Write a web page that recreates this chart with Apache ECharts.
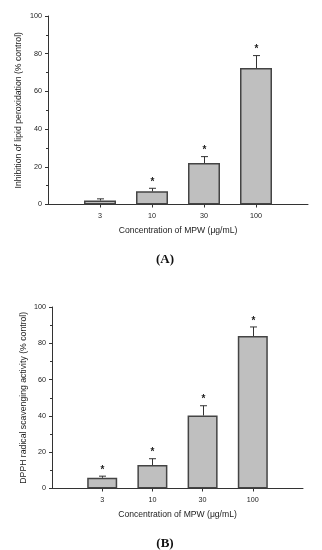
<!DOCTYPE html>
<html>
<head>
<meta charset="utf-8">
<script src="https://cdn.jsdelivr.net/npm/echarts@6/dist/echarts.min.js"></script>
<style>html,body{margin:0;padding:0;background:#fff}#c{width:322px;height:550px}</style>
</head>
<body>
<div id="c"></div>
<script>
var categories = ['3', '10', '30', '100'];
var aMeans = [2.1, 7.0, 22.0, 72.4];
var aErr = [0.9, 1.6, 3.4, 6.6];
var aSig = [false, true, true, true];
var bMeans = [5.9, 12.9, 40.2, 84.0];
var bErr = [0.9, 3.5, 5.4, 5.0];
var bSig = [true, true, true, true];
var yTicks = [0, 20, 40, 60, 80, 100];

var xData = [''].concat(categories).concat(['']);
function pad(arr) { return ['-'].concat(arr).concat(['-']); }

var font = 'Liberation Sans, Arial, sans-serif';
var axisColor = '#333';

function xAxisCfg(gridIndex) {
  return {
    type: 'category', gridIndex: gridIndex, data: xData, boundaryGap: false,
    name: 'Concentration of MPW (\u03bcg/mL)', nameLocation: 'middle', nameGap: 22, nameMoveOverlap: false,
    nameTextStyle: { fontFamily: font, fontSize: 8.6, color: '#222' },
    axisLine: { lineStyle: { color: axisColor, width: 1 } },
    axisTick: { show: true, length: 3, alignWithLabel: true, interval: function (i) { return i > 0 && i < xData.length - 1; }, lineStyle: { color: axisColor } },
    axisLabel: { interval: 0, margin: 8, fontFamily: font, fontSize: 7.2, color: '#222' },
    splitLine: { show: false }
  };
}
function yAxisCfg(gridIndex, name, gap) {
  return {
    type: 'value', gridIndex: gridIndex, min: yTicks[0], max: yTicks[yTicks.length - 1], interval: 20,
    name: name, nameLocation: 'middle', nameGap: gap, nameRotate: 90, nameMoveOverlap: false,
    nameTextStyle: { fontFamily: font, fontSize: 8.7, color: '#222' },
    axisLine: { show: true, lineStyle: { color: axisColor, width: 1 } },
    axisTick: { show: true, length: 3, lineStyle: { color: axisColor } },
    minorTick: { show: true, splitNumber: 2, length: 2, lineStyle: { color: axisColor } },
    axisLabel: { margin: 6, fontFamily: font, fontSize: 7.2, color: '#222' },
    splitLine: { show: false }
  };
}
function errSeries(axisIdx, means, errs, sig) {
  var data = means.map(function (m, i) { return [i + 1, m, m + errs[i], sig[i] ? 1 : 0]; });
  return {
    type: 'custom', xAxisIndex: axisIdx, yAxisIndex: axisIdx, z: 5,
    data: data,
    renderItem: function (params, api) {
      var x = api.value(0);
      var base = api.coord([x, api.value(1)]);
      var top = api.coord([x, api.value(2)]);
      var cx = Math.round(base[0]) + 0.5;
      var children = [
        { type: 'line', shape: { x1: cx, y1: base[1], x2: cx, y2: top[1] }, style: { stroke: '#333', lineWidth: 1 } },
        { type: 'line', shape: { x1: cx - 3.5, y1: top[1], x2: cx + 3.5, y2: top[1] }, style: { stroke: '#333', lineWidth: 1 } }
      ];
      if (api.value(3)) {
        children.push({ type: 'text', style: { text: '*', x: cx, y: top[1] - 6, align: 'center', verticalAlign: 'middle', fontFamily: font, fontSize: 10, fontWeight: 'bold', fill: '#222' } });
      }
      return { type: 'group', children: children };
    }
  };
}
function barSeries(axisIdx, means, width) {
  return {
    type: 'bar', xAxisIndex: axisIdx, yAxisIndex: axisIdx, data: pad(means), barWidth: width,
    itemStyle: { color: '#bfbfbf', borderColor: '#444', borderWidth: 1.5 },
    animation: false
  };
}

var chart = echarts.init(document.getElementById('c'), null, { renderer: 'canvas' });
chart.setOption({
  animation: false,
  backgroundColor: '#fff',
  title: [
    { text: '(A)', left: 160, top: 248, textAlign: 'center', textStyle: { fontFamily: 'Liberation Serif, Times New Roman, serif', fontSize: 13, fontWeight: 'bold', color: '#111' } },
    { text: '(B)', left: 160, top: 532, textAlign: 'center', textStyle: { fontFamily: 'Liberation Serif, Times New Roman, serif', fontSize: 13, fontWeight: 'bold', color: '#111' } }
  ],
  grid: [
    { left: 48, top: 16, width: 260, height: 188.5 },
    { left: 52, top: 307, width: 251, height: 181.5 }
  ],
  xAxis: [xAxisCfg(0), xAxisCfg(1)],
  yAxis: [
    yAxisCfg(0, 'Inhibition of lipid peroxidation (% control)', 25),
    yAxisCfg(1, 'DPPH radical scavenging activity (% control)', 24)
  ],
  series: [
    barSeries(0, aMeans, 32),
    errSeries(0, aMeans, aErr, aSig),
    barSeries(1, bMeans, 30),
    errSeries(1, bMeans, bErr, bSig)
  ]
});
</script>
</body>
</html>
